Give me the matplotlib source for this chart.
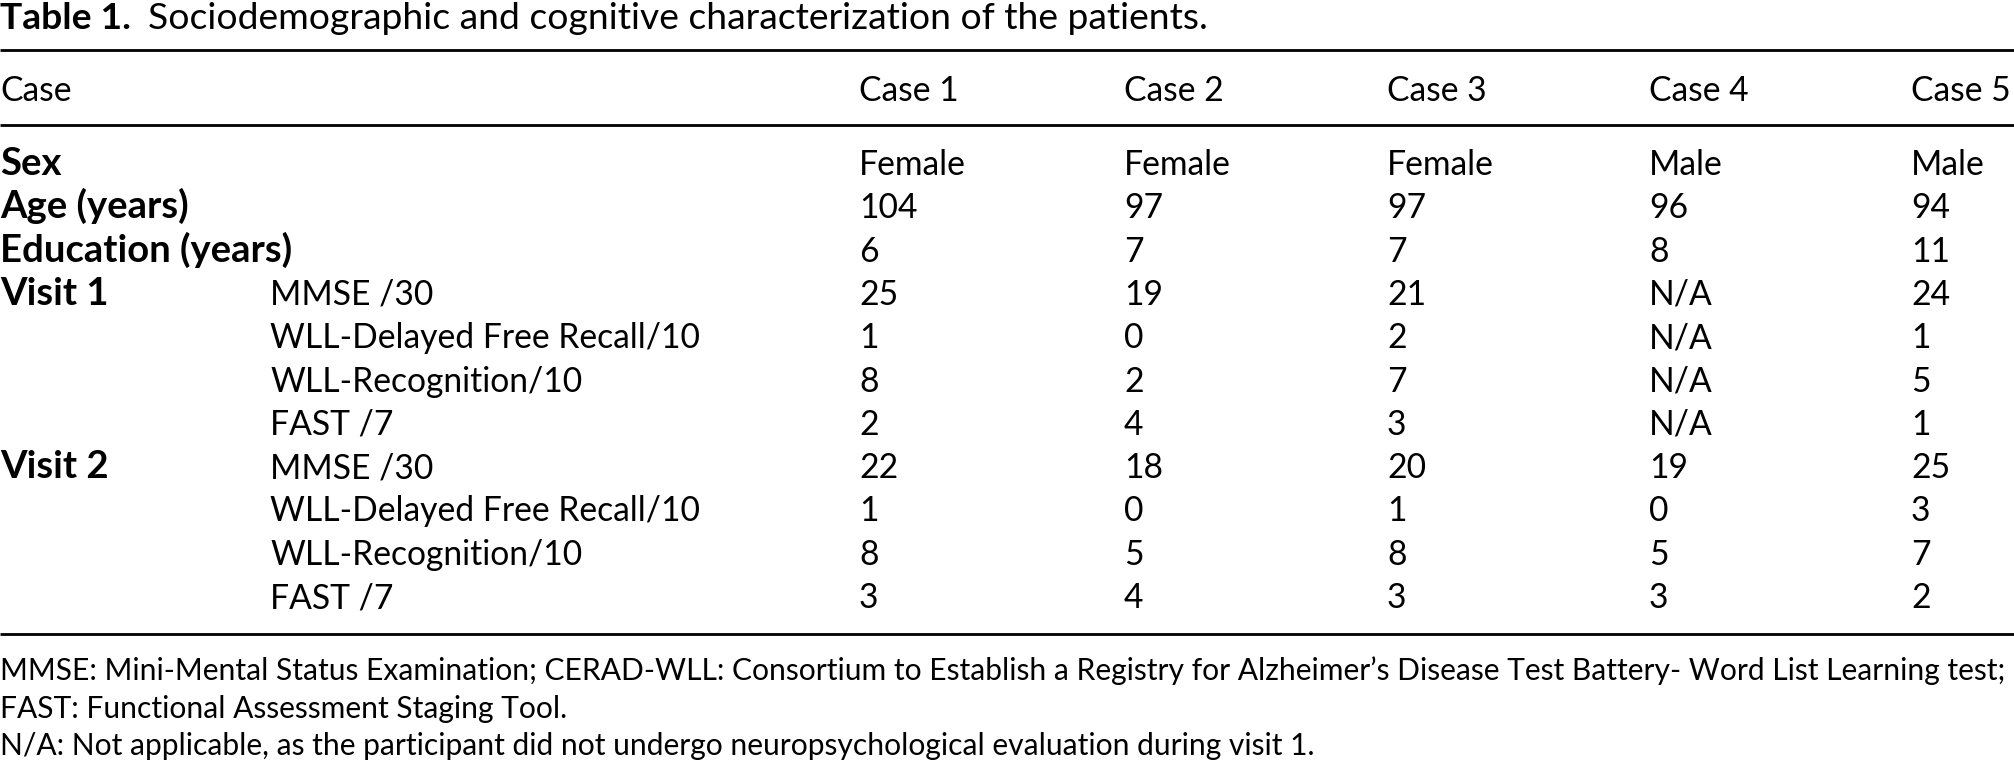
import numpy as np
import matplotlib
matplotlib.use('Agg')
import matplotlib.pyplot as plt

# --------------------------
# table data
# --------------------------
cases = ['Case 1', 'Case 2', 'Case 3', 'Case 4', 'Case 5']
sex = ['Female', 'Female', 'Female', 'Male', 'Male']
age = ['104', '97', '97', '96', '94']
education = ['6', '7', '7', '8', '11']

measures = ['MMSE /30', 'WLL-Delayed Free Recall/10', 'WLL-Recognition/10', 'FAST /7']
visit1 = [['25', '19', '21', 'N/A', '24'],
          ['1', '0', '2', 'N/A', '1'],
          ['8', '2', '7', 'N/A', '5'],
          ['2', '4', '3', 'N/A', '1']]
visit2 = [['22', '18', '20', '19', '25'],
          ['1', '0', '1', '0', '3'],
          ['8', '5', '8', '5', '7'],
          ['3', '4', '3', '3', '2']]

title_bold = 'Table 1.'
title_rest = 'Sociodemographic and cognitive characterization of the patients.'
notes = ["MMSE: Mini-Mental Status Examination; CERAD-WLL: Consortium to Establish a Registry "
         "for Alzheimer\u2019s Disease Test Battery- Word List Learning test;",
         "FAST: Functional Assessment Staging Tool.",
         "N/A: Not applicable, as the participant did not undergo neuropsychological "
         "evaluation during visit 1."]

# --------------------------
# layout (pixel coordinates, y down)
# --------------------------
W, H = 2014, 768
plt.rcParams['font.family'] = ['Lato', 'DejaVu Sans']
fs = 24.2
fs_bold = 27.5
fs_title = 26.8
fs_note = 21.6

fig = plt.figure(figsize=(W / 100, H / 100), dpi=100)
ax = fig.add_axes([0, 0, 1, 1])
ax.set_xlim(0, W)
ax.set_ylim(H, 0)
ax.axis('off')

col_x = [859, 1124, 1387, 1649, 1911]
sub_x = 270
row0, pitch = 163, 43.3
base = 12  # baseline offset from visual centre

# title
t = ax.text(0, 17 + 12, title_bold, fontsize=fs_title, fontweight='bold', va='baseline')
fig.canvas.draw()
bb = t.get_window_extent()
ax.text(bb.x1 + 17, 17 + 12, title_rest, fontsize=fs_title, va='baseline')

# rules
ax.hlines([50, 125, 634], 0, W, color='black', lw=2.0)

# header
ax.text(0, 89 + base, 'Case', fontsize=fs, va='baseline')
for x, c in zip(col_x, cases):
    ax.text(x, 89 + base, c, fontsize=fs, va='baseline')

# body rows
rows = [('Sex', None, sex), ('Age (years)', None, age), ('Education (years)', None, education)]
for i, m in enumerate(measures):
    rows.append(('Visit 1' if i == 0 else None, m, visit1[i]))
for i, m in enumerate(measures):
    rows.append(('Visit 2' if i == 0 else None, m, visit2[i]))

for r, (label, sub, vals) in enumerate(rows):
    y = row0 + r * pitch + base
    if label:
        ax.text(0, y, label, fontsize=fs_bold, fontweight='bold', va='baseline')
    if sub:
        ax.text(sub_x, y, sub, fontsize=fs, va='baseline')
    for x, v in zip(col_x, vals):
        ax.text(x, y, v, fontsize=fs, va='baseline')

# footnotes
for y, n in zip([670, 708, 745], notes):
    ax.text(0, y + 10, n, fontsize=fs_note, va='baseline')

fig.savefig('out.png', dpi=100)
